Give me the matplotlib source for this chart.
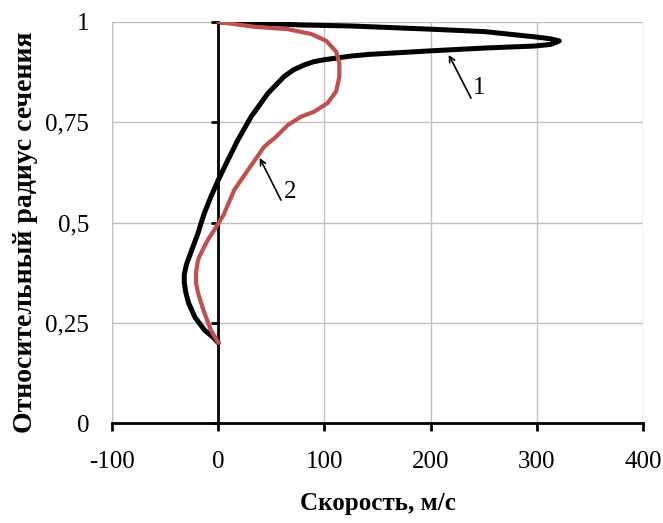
import matplotlib

matplotlib.use("Agg")
import matplotlib.pyplot as plt  # noqa: E402

plt.rcParams["font.family"] = ["Liberation Serif", "DejaVu Serif"]
plt.rcParams["axes.unicode_minus"] = False

# curve 1 (black), traced from the bottom end up to the tip and back to the top
x1 = [0, -4, -13, -22, -28, -30.5, -32, -32, -30, -25, -19, -16, -13, -7, 0, 8,
      18.5, 31, 46.7, 62, 71, 81, 90, 100, 125, 141, 200, 250.5, 297.6, 313,
      321, 313, 297.6, 250.5, 200, 125, 78, 34, 0]
y1 = [0.20, 0.212, 0.232, 0.264, 0.30, 0.325, 0.35, 0.37, 0.395, 0.431, 0.474,
      0.50, 0.524, 0.564, 0.606, 0.65, 0.706, 0.764, 0.822, 0.864, 0.881,
      0.893, 0.901, 0.906, 0.915, 0.919, 0.928, 0.935, 0.940, 0.944, 0.9526,
      0.958, 0.963, 0.976, 0.982, 0.99, 0.9925, 0.9975, 1.0]

# curve 2 (red)
x2 = [0, -7, -14, -19, -21, -21, -19.5, -18, -10, -2, 5, 15, 28, 43, 48, 53,
      65.5, 78, 90, 103, 111, 114, 114, 111, 101.6, 87.5, 65.5, 34, 0]
y2 = [0.20, 0.232, 0.282, 0.324, 0.35, 0.374, 0.40, 0.414, 0.456, 0.489, 0.519,
      0.581, 0.631, 0.688, 0.70, 0.71, 0.743, 0.764, 0.776, 0.798, 0.827,
      0.864, 0.898, 0.926, 0.953, 0.970, 0.982, 0.988, 1.0]

x_ticks = [-100, 0, 100, 200, 300, 400]
y_ticks = [0, 0.25, 0.5, 0.75, 1]
y_tick_labels = ["0", "0,25", "0,5", "0,75", "1"]

fig = plt.figure(figsize=(6.63, 5.23), dpi=100)
ax = fig.add_axes([0.169, 0.191, 0.801, 0.767])

ax.set_xlim(-100, 400)
ax.set_ylim(0, 1)
ax.set_xticks(x_ticks)
ax.set_yticks(y_ticks)
ax.set_yticklabels(y_tick_labels)
ax.grid(True, color="#c0c0c0", linewidth=1)
ax.set_axisbelow(True)
# grey frame line at x = -100 (top/right come from the grid)
ax.axvline(-100, color="#c0c0c0", linewidth=1, zorder=0)

for side in ("top", "right"):
    ax.spines[side].set_visible(False)
ax.spines["bottom"].set_linewidth(2)
# vertical axis crosses at x = 0; labels pushed out to the left edge
ax.spines["left"].set_position(("data", 0))
ax.spines["left"].set_linewidth(2)
ax.tick_params(axis="x", direction="out", length=6, width=2, labelsize=18, pad=14)
ax.tick_params(axis="y", direction="out", length=5, width=2, labelsize=18, pad=88)

ax.plot(x1, y1, color="black", linewidth=3.6, solid_capstyle="round",
        solid_joinstyle="round", zorder=3)
ax.plot(x2, y2, color="#c0504d", linewidth=3, solid_capstyle="round",
        solid_joinstyle="round", zorder=4)

arrow = dict(arrowstyle="->", color="black", linewidth=1.2, shrinkA=0, shrinkB=0)
ax.annotate("", xy=(217, 0.918), xytext=(238, 0.81), arrowprops=arrow)
ax.text(240, 0.835, "1", fontsize=18, va="center", ha="left")
ax.annotate("", xy=(39, 0.661), xytext=(59, 0.556), arrowprops=arrow)
ax.text(62, 0.577, "2", fontsize=18, va="center", ha="left")

ax.set_xlabel("Скорость, м/с", fontsize=18, fontweight="bold", labelpad=14)
ax.set_ylabel("Относительный радиус сечения", fontsize=20, fontweight="bold")
ax.yaxis.set_label_coords(-0.14, 0.476)

fig.savefig("out.png", dpi=100)
